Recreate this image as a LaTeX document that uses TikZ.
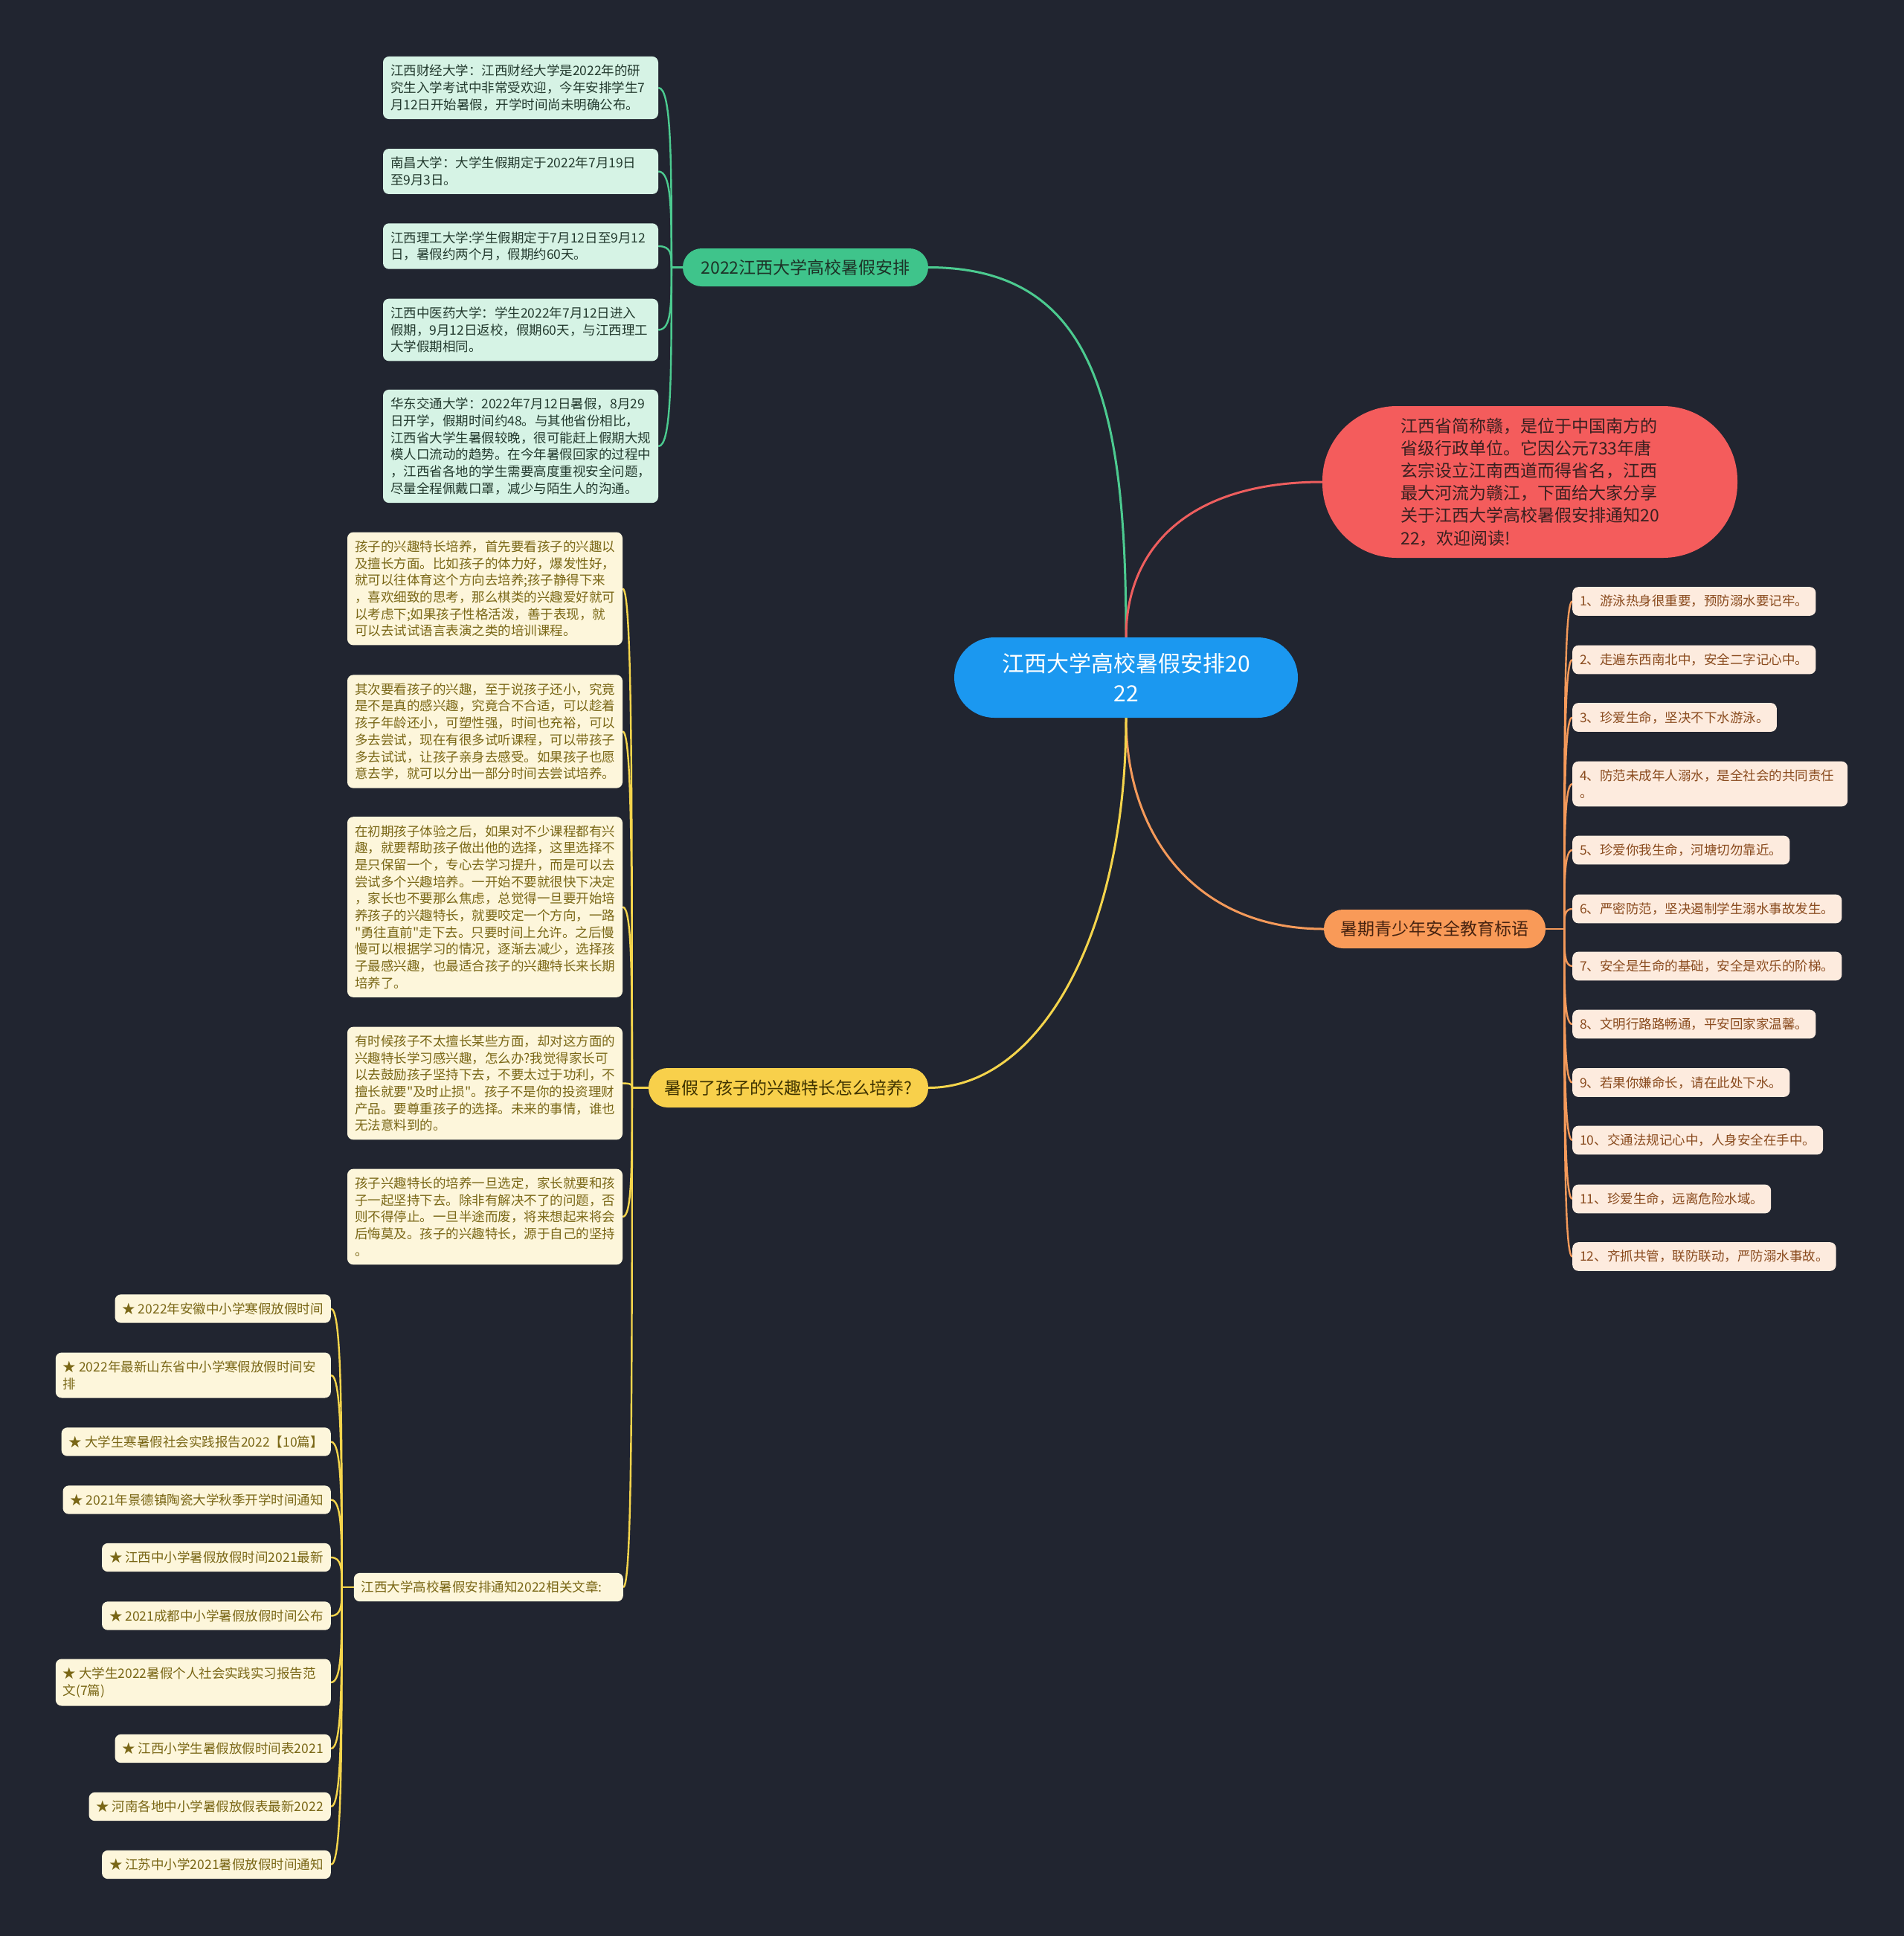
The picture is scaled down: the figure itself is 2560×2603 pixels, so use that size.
\documentclass[tikz,border=0pt]{standalone}
\usepackage{fontspec}
\newfontfamily\cjk{Noto Sans CJK SC}
\usetikzlibrary{calc,backgrounds}
\definecolor{bgc}{HTML}{212530}
\definecolor{cblue}{HTML}{1B98F0}
\definecolor{gbr}{HTML}{3FC48B}
\definecolor{gln}{HTML}{4CCB90}
\definecolor{gfill}{HTML}{D6F3E5}
\definecolor{gtxt}{HTML}{233A2E}
\definecolor{gbtxt}{HTML}{1D3327}
\definecolor{rbr}{HTML}{F45C5C}
\definecolor{rln}{HTML}{EE5E5E}
\definecolor{rtxt}{HTML}{3A2020}
\definecolor{obr}{HTML}{F99A58}
\definecolor{oln}{HTML}{F59A5A}
\definecolor{ofill}{HTML}{FDEBDE}
\definecolor{otxt}{HTML}{8A4B1E}
\definecolor{obtxt}{HTML}{472310}
\definecolor{ybr}{HTML}{F8D04B}
\definecolor{yln}{HTML}{F5D54C}
\definecolor{yfill}{HTML}{FDF6DB}
\definecolor{ytxt}{HTML}{7A6716}
\definecolor{ybtxt}{HTML}{3F3300}
\begin{document}
\begin{tikzpicture}[x=1pt,y=-1pt,
  leafbase/.style={rounded corners=8pt, inner xsep=10pt, inner ysep=11pt, align=left, font=\cjk\fontsize{17.5}{22.7}\selectfont},
  gleaf/.style={leafbase, fill=gfill, text=gtxt, text width=350pt},
  yleaf/.style={leafbase, fill=yfill, text=ytxt, text width=350pt},
  rleaf/.style={leafbase, fill=yfill, text=ytxt, anchor=east},
  oleaf/.style={leafbase, fill=ofill, text=otxt, anchor=west},
  branchbox/.style={rounded corners=25.5pt, minimum height=51pt, inner xsep=0pt, inner ysep=0pt, font=\cjk\fontsize{23}{28}\selectfont},
  mainln/.style={line width=3pt},
  leafln/.style={line width=2.4pt},
]
\useasboundingbox (0,0) rectangle (2560,2603);

% center
\node[fill=cblue, text=white, rounded corners=54pt, minimum width=462pt, minimum height=108pt, align=center, inner sep=0pt, font=\cjk\fontsize{30}{40}\selectfont] (c) at (1514,911) {江西大学高校暑假安排20\\22};

% red intro
\node[fill=rbr, text=rtxt, rounded corners=100pt, minimum width=558pt, minimum height=204pt, align=left, inner sep=0pt, font=\cjk\fontsize{23}{30.2}\selectfont] (rd) at (2057,648) {江西省简称赣，是位于中国南方的\\省级行政单位。它因公元733年唐\\玄宗设立江南西道而得省名，江西\\最大河流为赣江，下面给大家分享\\关于江西大学高校暑假安排通知20\\22，欢迎阅读!};

% branches
\node[branchbox, fill=gbr, text=gbtxt, minimum width=330pt] (gb) at (1083,359.5) {2022江西大学高校暑假安排};
\node[branchbox, fill=obr, text=obtxt, minimum width=298pt, minimum height=52pt] (ob) at (1929,1249) {暑期青少年安全教育标语};
\node[branchbox, fill=ybr, text=ybtxt, minimum width=376pt, minimum height=53pt] (yb) at (1060,1462.5) {暑假了孩子的兴趣特长怎么培养?};

% green leaves
\node[gleaf] (g1) at (700,118) {江西财经大学：江西财经大学是2022年的研\\究生入学考试中非常受欢迎，今年安排学生7\\月12日开始暑假，开学时间尚未明确公布。};
\node[gleaf] (g2) at (700,230.5) {南昌大学：大学生假期定于2022年7月19日\\至9月3日。};
\node[gleaf] (g3) at (700,331) {江西理工大学:学生假期定于7月12日至9月12\\日，暑假约两个月，假期约60天。};
\node[gleaf] (g4) at (700,443.5) {江西中医药大学：学生2022年7月12日进入\\假期，9月12日返校，假期60天，与江西理工\\大学假期相同。};
\node[gleaf] (g5) at (700,600) {华东交通大学：2022年7月12日暑假，8月29\\日开学，假期时间约48。与其他省份相比，\\江西省大学生暑假较晚，很可能赶上假期大规\\模人口流动的趋势。在今年暑假回家的过程中\\，江西省各地的学生需要高度重视安全问题，\\尽量全程佩戴口罩，减少与陌生人的沟通。};

% yellow leaves
\node[yleaf] (y1) at (652,791.5) {孩子的兴趣特长培养，首先要看孩子的兴趣以\\及擅长方面。比如孩子的体力好，爆发性好，\\就可以往体育这个方向去培养;孩子静得下来\\，喜欢细致的思考，那么棋类的兴趣爱好就可\\以考虑下;如果孩子性格活泼，善于表现，就\\可以去试试语言表演之类的培训课程。};
\node[yleaf] (y2) at (652,983.5) {其次要看孩子的兴趣，至于说孩子还小，究竟\\是不是真的感兴趣，究竟合不合适，可以趁着\\孩子年龄还小，可塑性强，时间也充裕，可以\\多去尝试，现在有很多试听课程，可以带孩子\\多去试试，让孩子亲身去感受。如果孩子也愿\\意去学，就可以分出一部分时间去尝试培养。};
\node[yleaf] (y3) at (652,1219.5) {在初期孩子体验之后，如果对不少课程都有兴\\趣，就要帮助孩子做出他的选择，这里选择不\\是只保留一个，专心去学习提升，而是可以去\\尝试多个兴趣培养。一开始不要就很快下决定\\，家长也不要那么焦虑，总觉得一旦要开始培\\养孩子的兴趣特长，就要咬定一个方向，一路\\"勇往直前"走下去。只要时间上允许。之后慢\\慢可以根据学习的情况，逐渐去减少，选择孩\\子最感兴趣，也最适合孩子的兴趣特长来长期\\培养了。};
\node[yleaf] (y4) at (652,1456.5) {有时候孩子不太擅长某些方面，却对这方面的\\兴趣特长学习感兴趣，怎么办?我觉得家长可\\以去鼓励孩子坚持下去，不要太过于功利，不\\擅长就要"及时止损"。孩子不是你的投资理财\\产品。要尊重孩子的选择。未来的事情，谁也\\无法意料到的。};
\node[yleaf] (y5) at (652,1636) {孩子兴趣特长的培养一旦选定，家长就要和孩\\子一起坚持下去。除非有解决不了的问题，否\\则不得停止。一旦半途而废，将来想起来将会\\后悔莫及。孩子的兴趣特长，源于自己的坚持\\。};
\node[rleaf, text width=342pt] (y6) at (838,2134) {江西大学高校暑假安排通知2022相关文章:};

% related articles
\node[rleaf] (r1) at (445,1759.5) {★ 2022年安徽中小学寒假放假时间};
\node[rleaf, text width=350pt] (r2) at (445,1849) {★\kern0.22em 2022年最新山东省中小学寒假放假时间安\\排};
\node[rleaf] (r3) at (445,1938.5) {★ 大学生寒暑假社会实践报告2022【10篇】};
\node[rleaf] (r4) at (445,2016.5) {★ 2021年景德镇陶瓷大学秋季开学时间通知};
\node[rleaf] (r5) at (445,2094) {★ 江西中小学暑假放假时间2021最新};
\node[rleaf] (r6) at (445,2172.5) {★ 2021成都中小学暑假放假时间公布};
\node[rleaf, text width=350pt] (r7) at (445,2262) {★\kern0.22em 大学生2022暑假个人社会实践实习报告范\\文(7篇)};
\node[rleaf] (r8) at (445,2351) {★ 江西小学生暑假放假时间表2021};
\node[rleaf] (r9) at (445,2429) {★ 河南各地中小学暑假放假表最新2022};
\node[rleaf] (r10) at (445,2507) {★ 江苏中小学2021暑假放假时间通知};

% orange leaves
\node[oleaf] (o1) at (2114,808.5) {1、游泳热身很重要，预防溺水要记牢。};
\node[oleaf] (o2) at (2114,887) {2、走遍东西南北中，安全二字记心中。};
\node[oleaf] (o3) at (2114,964.5) {3、珍爱生命，坚决不下水游泳。};
\node[oleaf, text width=350pt] (o4) at (2114,1054) {4、防范未成年人溺水，是全社会的共同责任\\。};
\node[oleaf] (o5) at (2114,1143) {5、珍爱你我生命，河塘切勿靠近。};
\node[oleaf] (o6) at (2114,1222) {6、严密防范，坚决遏制学生溺水事故发生。};
\node[oleaf] (o7) at (2114,1299) {7、安全是生命的基础，安全是欢乐的阶梯。};
\node[oleaf] (o8) at (2114,1377) {8、文明行路路畅通，平安回家家温馨。};
\node[oleaf] (o9) at (2114,1455.5) {9、若果你嫌命长，请在此处下水。};
\node[oleaf] (o10) at (2114,1533) {10、交通法规记心中，人身安全在手中。};
\node[oleaf] (o11) at (2114,1612) {11、珍爱生命，远离危险水域。};
\node[oleaf] (o12) at (2114,1689.5) {12、齐抓共管，联防联动，严防溺水事故。};

% junction points of the leaf trunks
\coordinate (gj) at ($(gb.west)+(-15,0)$);
\coordinate (yj) at ($(yb.west)+(-22,0)$);
\coordinate (rj) at ($(y6.west)+(-16,0)$);
\coordinate (oj) at ($(ob.east)+(25,0)$);

\begin{scope}[on background layer]
  \fill[bgc] (0,0) rectangle (2560,2603);
  % main connectors
  \draw[mainln, gln] (c.north) .. controls ($(c.north)+(0,-317)$) and ($(gb.east)+(222,0)$) .. (gb.east);
  \draw[mainln, rln] (c.north) .. controls ($(c.north)+(0,-120)$) and ($(rd.west)+(-180,0)$) .. (rd.west);
  \draw[mainln, oln] (c.south) .. controls ($(c.south)+(0,160)$) and ($(ob.west)+(-170,0)$) .. (ob.west);
  \draw[mainln, yln] (c.south) .. controls ($(c.south)+(0,290)$) and ($(yb.east)+(150,0)$) .. (yb.east);
  % leaf connectors
  \draw[leafln, gln] (gb.west) -- (gj);
  \foreach \n in {g1,g2,g3,g4,g5}{
    \coordinate (t) at (gj |- \n.east);
    \draw[leafln, gln] (gj) .. controls ($(gj)!0.6!(t)$) and (t) .. (\n.east);
  }
  \draw[leafln, yln] (yb.west) -- (yj);
  \foreach \n in {y1,y2,y3,y4,y5,y6}{
    \coordinate (t) at (yj |- \n.east);
    \draw[leafln, yln] (yj) .. controls ($(yj)!0.6!(t)$) and (t) .. (\n.east);
  }
  \draw[leafln, yln] (y6.west) -- (rj);
  \foreach \n in {r1,r2,r3,r4,r5,r6,r7,r8,r9,r10}{
    \coordinate (t) at (rj |- \n.east);
    \draw[leafln, yln] (rj) .. controls ($(rj)!0.6!(t)$) and (t) .. (\n.east);
  }
  \draw[leafln, oln] (ob.east) -- (oj);
  \foreach \n in {o1,o2,o3,o4,o5,o6,o7,o8,o9,o10,o11,o12}{
    \coordinate (t) at (oj |- \n.west);
    \draw[leafln, oln] (oj) .. controls ($(oj)!0.6!(t)$) and (t) .. (\n.west);
  }
\end{scope}
\end{tikzpicture}
\end{document}
